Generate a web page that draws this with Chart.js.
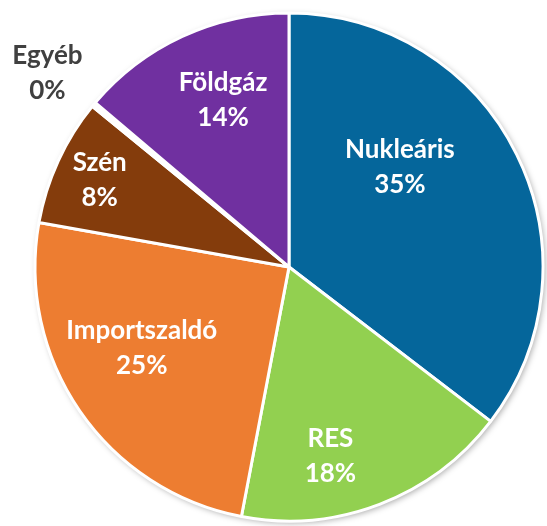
<!DOCTYPE html>
<html>
<head>
<meta charset="utf-8">
<script src="https://cdn.jsdelivr.net/npm/chart.js@4/dist/chart.umd.min.js"></script>
<style>
  html, body { margin: 0; padding: 0; background: #fff; }
  #wrap { width: 547px; height: 526px; }
</style>
</head>
<body>
<div id="wrap"><canvas id="pie"></canvas></div>
<script>
const categories = ['Nukleáris', 'RES', 'Importszaldó', 'Szén', 'Egyéb', 'Földgáz'];
const shares = [35.4, 17.6, 24.8, 8.1, 0.3, 13.8];
const sliceColors = ['#05669B', '#92D050', '#ED7D31', '#843C0C', '#FFFFFF', '#7030A0'];

// label placement: [fraction of radius, angle offset in degrees from slice middle]
const labelPlace = [[0.59, -16], [0.76, 8.5], [0.66, 6], [0.82, 0], [1.22, -1], [0.71, 3.4]];
const labelColors = ['#fff', '#fff', '#fff', '#fff', '#404040', '#fff'];

const pieShadow = {
    id: 'pieShadow',
    beforeDatasetsDraw(chart) {
        const arc = chart.getDatasetMeta(0).data[0];
        const ctx = chart.ctx;
        ctx.save();
        ctx.beginPath();
        ctx.arc(arc.x, arc.y, arc.outerRadius, 0, Math.PI * 2);
        ctx.fillStyle = '#fff';
        ctx.shadowColor = 'rgba(0,0,0,0.35)';
        ctx.shadowBlur = 6;
        ctx.shadowOffsetX = 2;
        ctx.shadowOffsetY = 2;
        ctx.fill();
        ctx.restore();
    }
};

const sliceLabels = {
    id: 'sliceLabels',
    afterDatasetsDraw(chart) {
        const ctx = chart.ctx;
        const meta = chart.getDatasetMeta(0);
        const total = shares.reduce((a, b) => a + b, 0);
        ctx.save();
        ctx.font = 'bold 26px Lato, "Open Sans", sans-serif';
        ctx.textAlign = 'center';
        ctx.textBaseline = 'middle';
        meta.data.forEach((arc, i) => {
            const mid = (arc.startAngle + arc.endAngle) / 2 + labelPlace[i][1] * Math.PI / 180;
            const r = arc.outerRadius * labelPlace[i][0];
            const x = arc.x + Math.cos(mid) * r;
            const y = arc.y + Math.sin(mid) * r;
            ctx.fillStyle = labelColors[i];
            ctx.fillText(categories[i], x, y - 17);
            ctx.fillText(Math.round(shares[i] / total * 100) + '%', x, y + 18);
        });
        ctx.restore();
    }
};

new Chart(document.getElementById('pie'), {
    type: 'pie',
    data: {
        labels: categories,
        datasets: [{
            data: shares,
            backgroundColor: sliceColors,
            borderColor: '#fff',
            borderWidth: 3
        }]
    },
    options: {
        responsive: true,
        maintainAspectRatio: false,
        animation: false,
        radius: 254,
        layout: { padding: { left: 31, right: 0, top: 8, bottom: 0 } },
        plugins: {
            legend: { display: false },
            tooltip: { enabled: false }
        }
    },
    plugins: [pieShadow, sliceLabels]
});
</script>
</body>
</html>
